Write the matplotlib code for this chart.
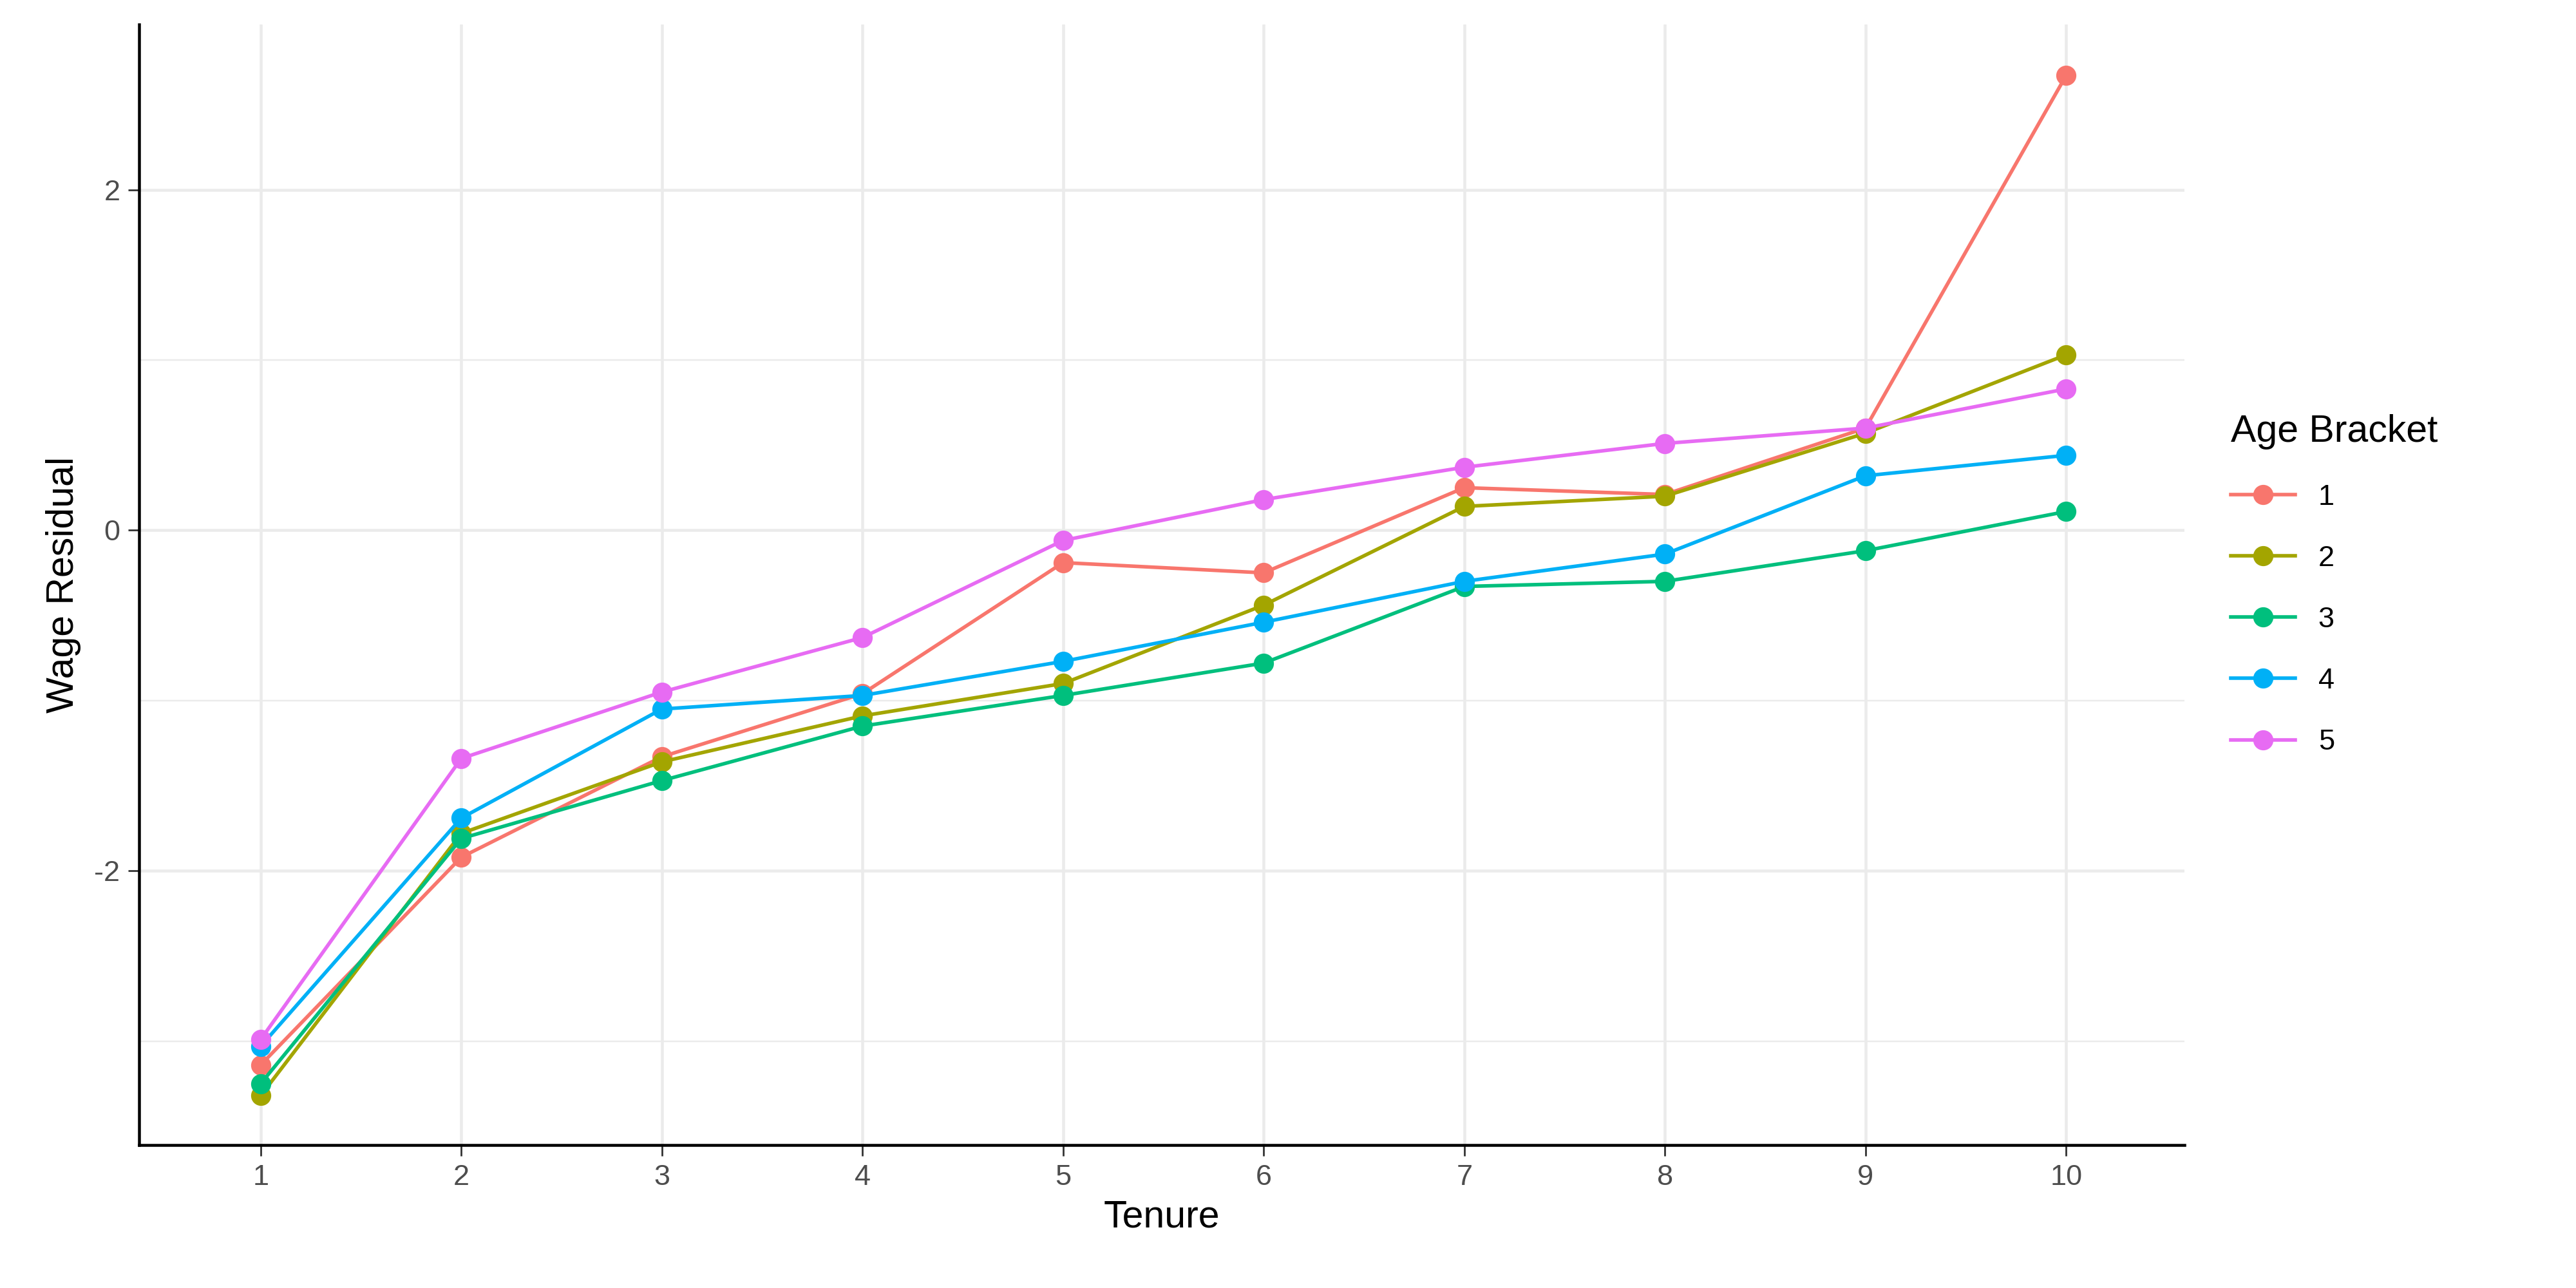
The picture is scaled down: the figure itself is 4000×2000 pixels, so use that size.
import matplotlib
matplotlib.use("Agg")
import matplotlib.pyplot as plt

tenure = [1, 2, 3, 4, 5, 6, 7, 8, 9, 10]
brackets = ["1", "2", "3", "4", "5"]
colors = ["#F8766D", "#A3A500", "#00BF7D", "#00B0F6", "#E76BF3"]
residuals = [
    [-3.14, -1.92, -1.33, -0.96, -0.19, -0.25, 0.25, 0.21, 0.60, 2.67],
    [-3.32, -1.78, -1.36, -1.09, -0.90, -0.44, 0.14, 0.20, 0.57, 1.03],
    [-3.25, -1.81, -1.47, -1.15, -0.97, -0.78, -0.33, -0.30, -0.12, 0.11],
    [-3.03, -1.69, -1.05, -0.97, -0.77, -0.54, -0.30, -0.14, 0.32, 0.44],
    [-2.99, -1.34, -0.95, -0.63, -0.06, 0.18, 0.37, 0.51, 0.60, 0.83],
]

plt.rcParams['font.family'] = ['Liberation Sans', 'DejaVu Sans']
plt.rcParams['axes.unicode_minus'] = False
fig = plt.figure(figsize=(16, 8), dpi=250)
ax = fig.add_axes([0.054, 0.111, 0.794, 0.870])

for lab, col, vals in zip(brackets, colors, residuals):
    ax.plot(tenure, vals, color=col, lw=1.6, marker='o', ms=8, label=lab)

ax.set_xlim(0.394, 10.59)
ax.set_ylim(-3.61, 2.97)
ax.set_xticks(tenure)
ax.set_yticks([-2, 0, 2])
ax.set_yticks([-3, -1, 1], minor=True)
ax.grid(True, which='major', color='#EBEBEB', lw=1.3)
ax.grid(True, which='minor', axis='y', color='#EBEBEB', lw=0.7)
ax.set_axisbelow(True)
for s in ['top', 'right']:
    ax.spines[s].set_visible(False)
for s in ['left', 'bottom']:
    ax.spines[s].set_linewidth(1.3)
ax.tick_params(which='minor', length=0)
ax.tick_params(which='major', length=5, labelsize=13, colors='#4D4D4D')
ax.tick_params(which='major', color='#333333')
ax.set_xlabel("Tenure", fontsize=17, labelpad=4)
ax.set_ylabel("Wage Residual", fontsize=17, labelpad=6)

leg = ax.legend(title="Age Bracket", loc='center left', bbox_to_anchor=(1.01, 0.5),
                frameon=False, fontsize=13, title_fontsize=17, labelspacing=1.2,
                handlelength=2.2)
leg._legend_box.align = 'left'

fig.savefig("out.png")
